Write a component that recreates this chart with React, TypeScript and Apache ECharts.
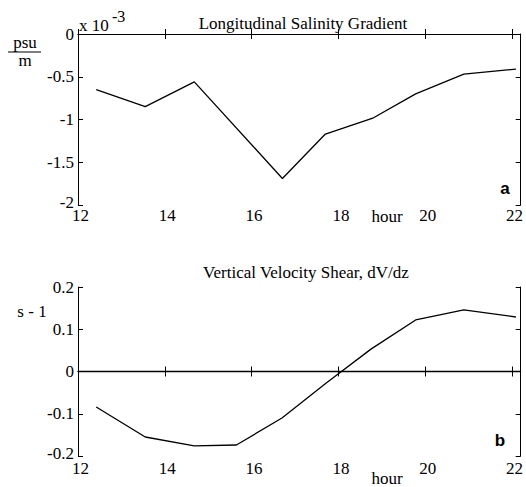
import React, { useEffect, useRef } from "react";
import * as echarts from "echarts";

// Panel a: longitudinal salinity gradient (units of 1e-3 psu/m)
const hoursA = [12.42, 13.55, 14.68, 16.71, 17.7, 18.81, 19.78, 20.89, 22.09];
const salinityGradient = [-0.65, -0.85, -0.56, -1.69, -1.17, -0.98, -0.7, -0.47, -0.41];

// Panel b: vertical velocity shear dV/dz (s^-1)
const hoursB = [12.42, 13.55, 14.68, 15.65, 16.7, 17.72, 18.75, 19.78, 20.89, 22.09];
const velocityShear = [-0.084, -0.155, -0.176, -0.174, -0.11, -0.027, 0.053, 0.122, 0.146, 0.129];

const titleA = "Longitudinal Salinity Gradient";
const titleB = "Vertical Velocity Shear, dV/dz";

const SERIF = "Liberation Serif";

export default function App() {
  const ref = useRef<HTMLDivElement>(null);
  useEffect(() => {
    if (!ref.current) return;
    const chart = echarts.init(ref.current, null, { renderer: "svg" });
    const axisLine = { show: true, lineStyle: { color: "#000", width: 1 } };
    const tick = { show: true, inside: true, length: 5, lineStyle: { color: "#000" } };
    const lbl = { color: "#000", fontFamily: SERIF, fontSize: 17, fontWeight: "normal" };
    const xBase = (grid: number, pos: "bottom" | "top", margin: number) => ({
      type: "value",
      gridIndex: grid,
      position: pos,
      min: 12,
      max: 22.2,
      interval: 2,
      axisLine,
      axisTick: tick,
      splitLine: { show: false },
      axisLabel:
        pos === "bottom"
          ? { ...lbl, margin, showMaxLabel: false, padding: [0, 0, 0, 5] }
          : { show: false },
    });
    const yBase = (grid: number, pos: "left" | "right", min: number, max: number, interval: number) => ({
      type: "value",
      gridIndex: grid,
      position: pos,
      min,
      max,
      interval,
      axisLine,
      axisTick: tick,
      splitLine: { show: false },
      axisLabel:
        pos === "left"
          ? {
              ...lbl,
              margin: 4,
              formatter: (v: number) => (Math.abs(v - min) < 1e-9 ? `{lo|${v}}` : `${v}`),
              rich: { lo: { ...lbl, padding: [0, 0, 6, 0] } },
            }
          : { show: false },
    });
    const txt = (text: string, x: number, y: number, size = 17, extra: any = {}) => ({
      type: "text",
      x,
      y,
      style: {
        text,
        font: `${size}px ${SERIF}`,
        fill: "#000",
        textAlign: "center",
        textVerticalAlign: "middle",
        ...extra,
      },
    });
    chart.setOption({
      animation: false,
      backgroundColor: "#fff",
      textStyle: { fontFamily: SERIF, color: "#000" },
      grid: [
        { left: 78, right: 5, top: 34, height: 171 },
        { left: 78, right: 5, top: 287, height: 169 },
      ],
      xAxis: [
        xBase(0, "bottom", 2),
        xBase(0, "top", 0),
        xBase(1, "bottom", 4),
        xBase(1, "top", 0),
      ],
      yAxis: [
        yBase(0, "left", -2, 0, 0.5),
        yBase(0, "right", -2, 0, 0.5),
        yBase(1, "left", -0.2, 0.2, 0.1),
        yBase(1, "right", -0.2, 0.2, 0.1),
      ],
      series: [
        {
          type: "line",
          xAxisIndex: 0,
          yAxisIndex: 0,
          data: hoursA.map((h, i) => [h, salinityGradient[i]]),
          showSymbol: false,
          lineStyle: { color: "#000", width: 1.3 },
        },
        {
          type: "line",
          xAxisIndex: 2,
          yAxisIndex: 2,
          data: hoursB.map((h, i) => [h, velocityShear[i]]),
          showSymbol: false,
          lineStyle: { color: "#000", width: 1.3 },
          markLine: {
            silent: true,
            symbol: "none",
            label: { show: false },
            lineStyle: { color: "#000", width: 1.3, type: "solid" },
            data: [{ yAxis: 0 }],
          },
        },
      ],
      graphic: [
        txt(titleA, 303, 23),
        txt(titleB, 306, 272),
        txt("x 10", 79, 25, 17, { textAlign: "left" }),
        txt("-3", 112, 16, 16, { textAlign: "left" }),
        txt("psu", 25, 42),
        { type: "line", shape: { x1: 8, y1: 52, x2: 41, y2: 52 }, style: { stroke: "#000", lineWidth: 1.2 } },
        txt("m", 25, 60),
        txt("s - 1", 32, 311),
        { type: "text", x: 505, y: 188, style: { text: "a", font: `bold 17px Liberation Sans`, fill: "#000", textAlign: "center", textVerticalAlign: "middle" } },
        { type: "text", x: 500, y: 440, style: { text: "b", font: `bold 17px Liberation Sans`, fill: "#000", textAlign: "center", textVerticalAlign: "middle" } },
        txt("hour", 387, 216),
        txt("hour", 387, 478),
      ],
    });
    return () => chart.dispose();
  }, []);
  return (
    <div
      ref={ref}
      style={{ position: "fixed", left: 0, top: 0, width: 526, height: 487, background: "#fff" }}
    />
  );
}
